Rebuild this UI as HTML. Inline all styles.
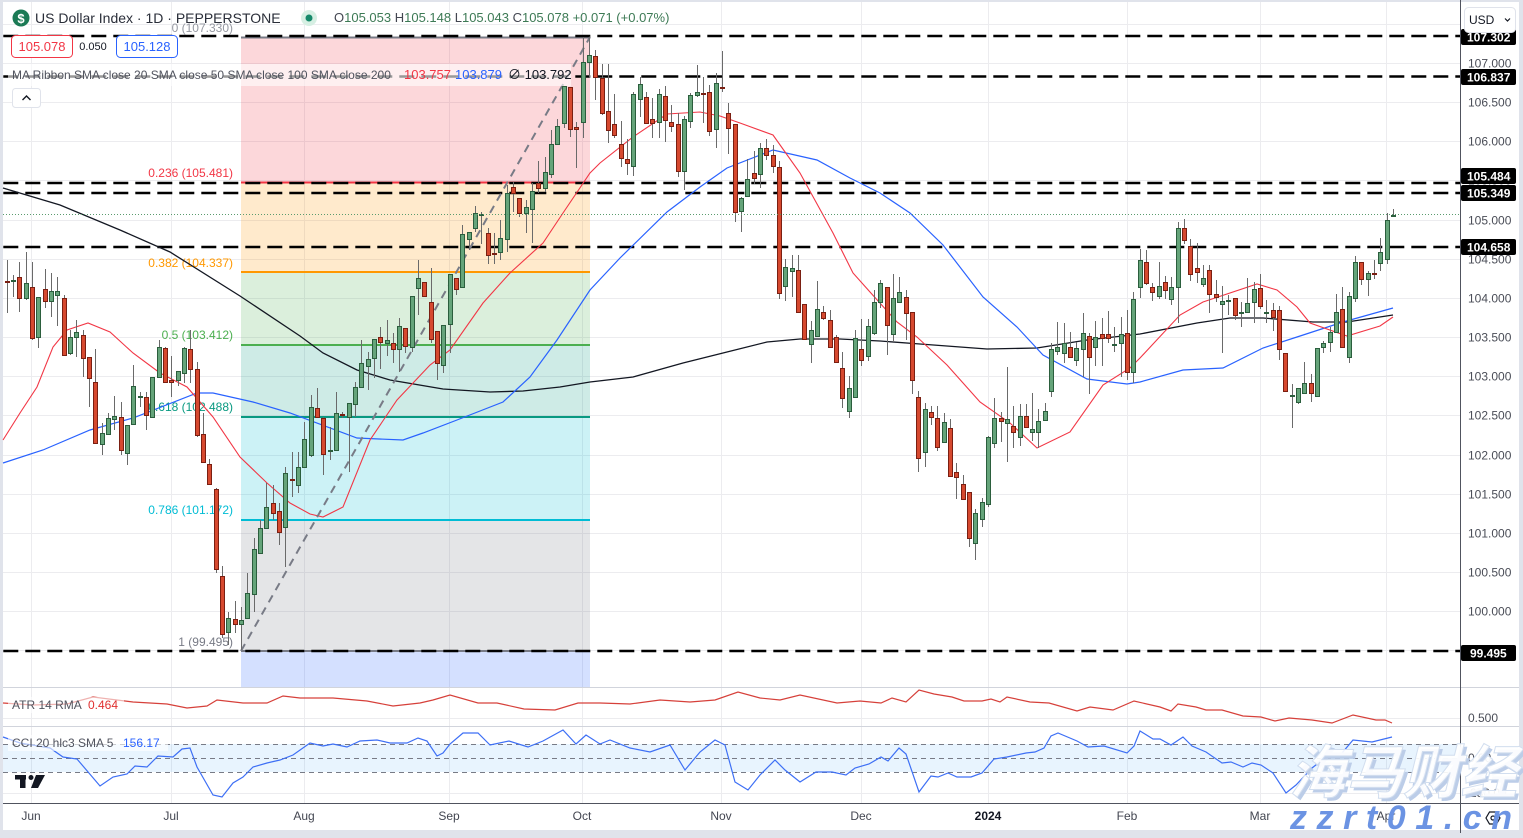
<!DOCTYPE html>
<html><head><meta charset="utf-8">
<style>
html,body{margin:0;padding:0;background:#e0e3eb;}
body{width:1523px;height:833px;overflow:hidden;}
svg text{font-family:"Liberation Sans","Noto Sans CJK SC",sans-serif;}
</style></head><body>
<svg id="c" width="1523" height="833" viewBox="0 0 1523 833" xmlns="http://www.w3.org/2000/svg">
<rect x="0" y="0" width="1523" height="833" fill="#e0e3eb"/>
<rect x="3" y="2" width="1516" height="828" fill="#ffffff"/>

<!-- horizontal grid main -->
<g stroke="#ececef" stroke-width="1">
<line x1="3" x2="1460" y1="24.5" y2="24.5"/><line x1="3" x2="1460" y1="63.5" y2="63.5"/>
<line x1="3" x2="1460" y1="102.5" y2="102.5"/><line x1="3" x2="1460" y1="141.5" y2="141.5"/>
<line x1="3" x2="1460" y1="180.5" y2="180.5"/><line x1="3" x2="1460" y1="220.5" y2="220.5"/>
<line x1="3" x2="1460" y1="259.5" y2="259.5"/><line x1="3" x2="1460" y1="298.5" y2="298.5"/>
<line x1="3" x2="1460" y1="337.5" y2="337.5"/><line x1="3" x2="1460" y1="376.5" y2="376.5"/>
<line x1="3" x2="1460" y1="415.5" y2="415.5"/><line x1="3" x2="1460" y1="455.5" y2="455.5"/>
<line x1="3" x2="1460" y1="494.5" y2="494.5"/><line x1="3" x2="1460" y1="533.5" y2="533.5"/>
<line x1="3" x2="1460" y1="572.5" y2="572.5"/><line x1="3" x2="1460" y1="611.5" y2="611.5"/>
<line x1="3" x2="1460" y1="650.5" y2="650.5"/>
<line x1="3" x2="1460" y1="718.5" y2="718.5"/><line x1="3" x2="1460" y1="793.5" y2="793.5"/>
</g>
<!-- vertical grid -->
<g stroke="#ececef" stroke-width="1">
<line x1="31.5" x2="31.5" y1="2" y2="803"/><line x1="171.5" x2="171.5" y1="2" y2="803"/>
<line x1="304.5" x2="304.5" y1="2" y2="803"/><line x1="449.5" x2="449.5" y1="2" y2="803"/>
<line x1="582.5" x2="582.5" y1="2" y2="803"/><line x1="721.5" x2="721.5" y1="2" y2="803"/>
<line x1="861.5" x2="861.5" y1="2" y2="803"/><line x1="988.5" x2="988.5" y1="2" y2="803"/>
<line x1="1127.5" x2="1127.5" y1="2" y2="803"/><line x1="1260.5" x2="1260.5" y1="2" y2="803"/>
<line x1="1386.5" x2="1386.5" y1="2" y2="803"/>
</g>

<!-- fib fills -->
<rect x="241" y="37.5" width="349" height="145" fill="rgba(242,54,69,0.2)"/>
<rect x="241" y="182.5" width="349" height="89.5" fill="rgba(255,152,0,0.2)"/>
<rect x="241" y="272" width="349" height="73" fill="rgba(76,175,80,0.2)"/>
<rect x="241" y="345" width="349" height="72" fill="rgba(8,153,129,0.2)"/>
<rect x="241" y="417" width="349" height="103" fill="rgba(0,188,212,0.2)"/>
<rect x="241" y="520" width="349" height="131" fill="rgba(120,123,134,0.2)"/>
<rect x="241" y="651" width="349" height="36" fill="rgba(41,98,255,0.2)"/>
<!-- fib lines -->
<g stroke-width="2">
<line x1="241" x2="590" y1="37.5" y2="37.5" stroke="#787b86"/>
<line x1="241" x2="590" y1="182.5" y2="182.5" stroke="#f23645"/>
<line x1="241" x2="590" y1="272" y2="272" stroke="#ff9800"/>
<line x1="241" x2="590" y1="345" y2="345" stroke="#4caf50"/>
<line x1="241" x2="590" y1="417" y2="417" stroke="#089981"/>
<line x1="241" x2="590" y1="520" y2="520" stroke="#00bcd4"/>
<line x1="241" x2="590" y1="651" y2="651" stroke="#787b86"/>
</g>
<g font-size="12" text-anchor="end">
<text x="233" y="32" fill="#9598a1">0 (107.330)</text>
<text x="233" y="177" fill="#f23645">0.236 (105.481)</text>
<text x="233" y="267" fill="#ff9800">0.382 (104.337)</text>
<text x="233" y="339" fill="#4caf50">0.5 (103.412)</text>
<text x="233" y="411" fill="#089981">0.618 (102.488)</text>
<text x="233" y="514" fill="#00bcd4">0.786 (101.172)</text>
<text x="233" y="646" fill="#787b86">1 (99.495)</text>
</g>

<!-- black dashed horizontal levels -->
<g stroke="#000" stroke-width="2.5" stroke-dasharray="15 7">
<line x1="3.3" x2="1460" y1="36" y2="36"/>
<line x1="3.3" x2="1460" y1="76.5" y2="76.5"/>
<line x1="3.3" x2="1460" y1="183" y2="183"/>
<line x1="3.3" x2="1460" y1="193" y2="193"/>
<line x1="3.3" x2="1460" y1="247" y2="247"/>
<line x1="3.3" x2="1460" y1="651" y2="651"/>
</g>

<!-- moving averages -->
<g fill="none">
<polyline stroke="#131722" stroke-width="1.3" points="3,188 60,205 120,230 170,252 240,296 300,336 323,353 357,370 390,380 443,389 490,392 523,391 560,387 590,382 633,377 683,363 727,352 767,342 800,339 840,339 880,341 920,344 987,349 1037,348 1087,340 1140,334 1197,323 1230,318 1263,318 1313,322 1347,322 1393,315"/>
<polyline stroke="#2962ff" stroke-width="1.2" points="3,463 43,450 90,430 133,418 197,393 213,393 253,402 290,413 357,438 403,440 423,433 457,420 503,402 530,377 557,340 590,290 620,258 667,212 700,187 727,168 773,150 817,160 850,178 880,193 910,213 943,245 983,297 1017,327 1043,355 1087,379 1127,384 1140,382 1183,370 1223,368 1263,348 1297,337 1343,322 1393,308"/>
<polyline stroke="#f23645" stroke-width="1.1" points="3,440 20,413 37,387 53,347 67,330 88,323 110,332 133,353 160,373 187,387 213,417 240,457 267,483 290,503 310,514 323,517 343,507 370,440 397,400 430,365 450,350 483,303 510,273 543,243 563,213 590,173 600,163 633,137 667,114 700,112 720,116 740,123 773,135 800,173 833,233 853,273 870,292 897,322 917,337 947,365 980,402 1010,423 1037,448 1070,432 1103,385 1130,368 1140,358 1180,315 1203,302 1257,284 1277,290 1297,307 1310,323 1347,336 1380,326 1393,317"/>
</g>
<!-- fib trend line -->
<line x1="241" y1="651" x2="590" y2="37" stroke="#787b86" stroke-width="2" stroke-dasharray="8 6"/>

<!-- candles -->
<g id="cd"></g>

<!-- current price dotted -->
<line x1="3" x2="1460" y1="214.5" y2="214.5" stroke="#5a9b6e" stroke-width="1" stroke-dasharray="1 2"/>

<!-- header -->
<circle cx="21" cy="18" r="8.5" fill="#1b7a55"/>
<text x="21" y="23" font-size="13" font-weight="bold" fill="#fff" text-anchor="middle">$</text>
<text x="35" y="23" font-size="14" fill="#2a2e39">US Dollar Index · 1D · PEPPERSTONE</text>
<circle cx="309" cy="18" r="8" fill="#d6efe3"/>
<circle cx="309" cy="18" r="3.5" fill="#15896a"/>
<text x="334" y="22" font-size="13" fill="#3d7a55"><tspan fill="#434651">O</tspan>105.053 <tspan fill="#434651">H</tspan>105.148 <tspan fill="#434651">L</tspan>105.043 <tspan fill="#434651">C</tspan>105.078 +0.071 (+0.07%)</text>

<rect x="11.5" y="35.5" width="61" height="22" rx="4" fill="#fff" stroke="#f23645"/>
<text x="42" y="51" font-size="13" fill="#f23645" text-anchor="middle">105.078</text>
<text x="93" y="50" font-size="11" fill="#131722" text-anchor="middle">0.050</text>
<rect x="116.5" y="35.5" width="61" height="22" rx="4" fill="#fff" stroke="#2962ff"/>
<text x="147" y="51" font-size="13" fill="#2962ff" text-anchor="middle">105.128</text>

<rect x="8" y="64" width="563" height="22" fill="#fff" fill-opacity="0.6"/>
<text x="12" y="79" font-size="12" fill="#50535e">MA Ribbon SMA close 20 SMA close 50 SMA close 100 SMA close 200</text>
<text x="404" y="79" font-size="13" fill="#f23645">103.757</text>
<text x="455" y="79" font-size="13" fill="#2962ff">103.879</text>
<text x="508" y="79" font-size="13" fill="#131722">∅ 103.792</text>

<rect x="12.5" y="88.5" width="28" height="19" rx="3" fill="#fff" stroke="#e0e3eb"/>
<polyline points="22.5,100 26.5,96 30.5,100" fill="none" stroke="#131722" stroke-width="1.4"/>

<!-- lower panes -->
<line x1="3" x2="1519" y1="687.5" y2="687.5" stroke="#d1d4dc"/>
<line x1="3" x2="1519" y1="726.5" y2="726.5" stroke="#d1d4dc"/>
<rect x="3" y="744" width="1457" height="28" fill="rgba(33,150,243,0.1)"/>
<g stroke="#787b86" stroke-width="1" stroke-dasharray="5 4">
<line x1="3" x2="1460" y1="744.5" y2="744.5"/>
<line x1="3" x2="1460" y1="758.5" y2="758.5"/>
<line x1="3" x2="1460" y1="772.5" y2="772.5"/>
</g>
<polyline fill="none" stroke="#d6403a" stroke-width="1.2" points="3,703 33,705 67,704 93,697 133,702 167,704 187,708 207,706 217,700 243,703 267,703 283,696 300,698 333,698 367,701 393,706 420,703 433,700 450,695 478,703 497,703 524,709 555,710 578,703 600,703 630,704 660,700 690,702 715,700 738,692 760,698 780,700 800,695 837,703 860,701 881,703 892,698 906,702 919,690 934,694 952,697 964,701 982,701 991,699 1000,702 1007,697 1030,702 1049,703 1077,711 1090,707 1113,710 1134,701 1160,707 1171,711 1178,704 1196,707 1206,710 1222,710 1243,716 1261,717 1275,721 1289,718 1312,720 1332,723 1353,715 1376,720 1385,720 1392,723"/>
<polyline fill="none" stroke="#3d6ff5" stroke-width="1.2" points="3,737 20,743 50,748 63,757 77,759 100,786 113,777 127,774 135,766 147,767 158,756 173,757 182,749 190,748 197,767 213,795 222,797 233,783 243,777 253,767 267,763 280,760 293,755 310,743 323,746 333,744 347,747 360,741 377,740 390,743 407,743 418,738 427,741 437,756 443,753 450,744 463,733 478,733 490,745 509,741 528,747 543,741 563,730 576,744 586,735 600,744 610,740 630,748 650,752 670,745 685,770 700,752 715,740 725,745 735,782 748,790 760,775 775,760 785,770 800,782 816,772 832,772 846,775 855,768 869,764 881,757 888,761 899,748 906,754 919,792 931,776 938,777 948,773 957,777 971,777 982,773 994,759 1007,757 1026,753 1035,752 1044,748 1051,736 1058,733 1077,741 1088,747 1104,746 1127,753 1134,746 1140,731 1153,739 1160,739 1171,745 1183,737 1192,746 1206,752 1222,763 1231,762 1243,767 1252,763 1261,765 1273,773 1286,793 1296,785 1312,768 1330,754 1342,753 1353,740 1372,742 1392,737"/>
<rect x="8" y="697" width="116" height="16" fill="#fff" fill-opacity="0.6"/>
<text x="12" y="709" font-size="12" fill="#50535e">ATR 14 RMA</text>
<text x="88" y="709" font-size="12" fill="#e0302f">0.464</text>
<rect x="8" y="735" width="160" height="16" fill="#fff" fill-opacity="0.6"/>
<text x="12" y="747" font-size="12" fill="#50535e">CCI 20 hlc3 SMA 5</text>
<text x="123" y="747" font-size="12" fill="#2962ff">156.17</text>
<!-- TV logo -->
<g fill="#131722">
<rect x="15" y="775" width="11" height="4.5"/>
<rect x="20" y="775" width="5.5" height="13"/>
<circle cx="31" cy="777.5" r="2.5"/>
<polygon points="36,775 45,775 38,788 31,788"/>
</g>

<!-- time axis -->
<line x1="3" x2="1519" y1="803.5" y2="803.5" stroke="#50535e"/>
<g font-size="12" fill="#434651" text-anchor="middle">
<text x="31" y="820">Jun</text><text x="171" y="820">Jul</text><text x="304" y="820">Aug</text>
<text x="449" y="820">Sep</text><text x="582" y="820">Oct</text><text x="721" y="820">Nov</text>
<text x="861" y="820">Dec</text><text x="988" y="820" font-weight="bold" fill="#131722">2024</text>
<text x="1127" y="820">Feb</text><text x="1260" y="820">Mar</text><text x="1386" y="820">Apr</text>
</g>

<!-- right price axis -->
<rect x="1461" y="2" width="58" height="801" fill="#fff"/>
<line x1="1460.5" x2="1460.5" y1="0" y2="833" stroke="#50535e"/>
<line x1="1461" x2="1519" y1="687.5" y2="687.5" stroke="#d1d4dc"/>
<line x1="1461" x2="1519" y1="726.5" y2="726.5" stroke="#d1d4dc"/>
<g font-size="12" fill="#4a4d57">
<text x="1468" y="28">107.500</text>
<text x="1468" y="67.5">107.000</text><text x="1468" y="106.5">106.500</text>
<text x="1468" y="145.5">106.000</text><text x="1468" y="184.5">105.500</text>
<text x="1468" y="224.5">105.000</text><text x="1468" y="263.5">104.500</text>
<text x="1468" y="302.5">104.000</text><text x="1468" y="341.5">103.500</text>
<text x="1468" y="380.5">103.000</text><text x="1468" y="419.5">102.500</text>
<text x="1468" y="459.5">102.000</text><text x="1468" y="498.5">101.500</text>
<text x="1468" y="537.5">101.000</text><text x="1468" y="576.5">100.500</text>
<text x="1468" y="615.5">100.000</text><text x="1468" y="654.5">99.500</text>
<text x="1468" y="722">0.500</text>
<text x="1468" y="762">0.00</text>
<text x="1466" y="797">-250.00</text>
</g>
<g>
<rect x="1461" y="29" width="55" height="16" rx="2" fill="#000"/>
<rect x="1461" y="69" width="55" height="16" rx="2" fill="#000"/>
<rect x="1461" y="168" width="55" height="16" rx="2" fill="#000"/>
<rect x="1461" y="185" width="55" height="16" rx="2" fill="#000"/>
<rect x="1461" y="239" width="55" height="16" rx="2" fill="#000"/>
<rect x="1461" y="645" width="55" height="16" rx="2" fill="#000"/>
</g>
<g font-size="12" font-weight="bold" fill="#fff">
<text x="1467" y="41.5">107.302</text>
<text x="1467" y="81.5">106.837</text>
<text x="1467" y="180.5">105.484</text>
<text x="1467" y="197.5">105.349</text>
<text x="1467" y="251.5">104.658</text>
<text x="1470" y="657.5">99.495</text>
</g>
<rect x="1464.5" y="7.5" width="51" height="25" rx="4" fill="#fff" stroke="#e0e3eb"/>
<text x="1469" y="24" font-size="12" fill="#131722">USD</text>
<polyline points="1505,18.5 1507.5,21 1510,18.5" fill="none" stroke="#131722" stroke-width="1.2"/>
<polygon points="1500,818 1496.5,824 1489.5,824 1486,818 1489.5,812 1496.5,812" fill="none" stroke="#131722" stroke-width="1.2"/>
<circle cx="1493" cy="818" r="2" fill="none" stroke="#131722" stroke-width="1.2"/>

<!-- watermark -->
<g font-size="58" font-weight="bold" font-style="italic">
<text x="1292" y="796" fill="#bccde8" textLength="228" lengthAdjust="spacingAndGlyphs" style="font-family:'Noto Sans CJK SC','WenQuanYi Zen Hei',sans-serif">海马财经</text>
<text x="1289" y="793" fill="#ffffff" fill-opacity="0.92" stroke="#d2deef" stroke-width="1" textLength="228" lengthAdjust="spacingAndGlyphs" style="font-family:'Noto Sans CJK SC','WenQuanYi Zen Hei',sans-serif">海马财经</text>
</g>
<text x="1290" y="829" font-size="34" font-weight="bold" font-style="italic" fill="#6b93e3" textLength="222" lengthAdjust="spacing">zzrt01.cn</text>
</svg>
<script>
const D=[
[281,260,313,282],[281,275,297,280],[277,262,312,298],[298,252,300,283],[287,262,340,338],
[337,297,348,297],[289,269,308,301],[301,273,317,291],[295,277,326,291],[298,295,356,355],
[353,330,355,337],[337,320,357,332],[335,330,377,358],[357,357,407,378],[382,349,443,443],
[444,423,455,433],[434,413,435,418],[419,396,430,416],[417,402,455,450],[453,425,465,425],
[424,365,425,386],[397,392,407,396],[397,392,430,415],[417,377,417,377],[377,340,378,347],
[348,347,383,382],[380,356,397,382],[380,371,386,371],[373,347,383,348],[349,330,383,369],
[369,362,437,435],[434,413,463,462],[464,459,484,484],[489,488,573,569],[576,566,638,634],
[632,612,645,618],[619,601,633,624],[624,607,650,620],[618,573,618,593],[594,538,612,549],
[553,520,553,528],[528,483,528,507],[503,485,520,513],[511,503,545,532],[527,467,567,473],
[479,452,497,480],[485,452,493,467],[467,422,467,439],[455,395,457,407],[408,388,417,417],
[418,417,475,454],[451,427,460,450],[450,392,451,413],[414,412,418,415],[417,403,472,403],
[404,382,417,387],[387,340,387,363],[366,352,390,359],[358,339,378,339],[337,327,369,342],
[343,320,356,340],[343,333,363,349],[349,318,372,326],[328,328,353,346],[347,296,352,296],
[288,260,315,278],[282,282,297,296],[302,268,343,339],[331,331,380,363],[365,325,373,325],
[324,274,353,274],[278,278,295,289],[287,225,288,234],[239,232,250,232],[228,206,232,213],
[215,212,244,214],[233,228,264,255],[253,233,264,254],[252,220,260,238],[239,185,252,193],
[187,182,212,193],[198,198,217,213],[213,200,233,207],[209,183,243,191],[183,161,193,188],
[188,157,192,172],[174,130,178,144],[144,119,144,126],[123,86,128,86],[87,87,137,129],
[127,122,168,129],[122,37,138,62],[62,37,78,55],[56,50,100,77],[78,64,115,113],
[111,64,143,130],[124,94,138,135],[144,121,167,158],[159,139,175,163],[166,92,176,94],
[99,77,117,84],[97,92,123,123],[119,98,138,123],[122,89,138,94],[96,86,142,120],
[122,105,132,126],[124,113,177,171],[171,116,190,119],[121,93,128,95],[95,65,97,92],
[93,77,123,94],[92,85,136,131],[129,73,148,83],[87,51,92,88],[113,103,154,128],
[124,124,222,212],[211,197,232,198],[196,159,197,179],[173,151,184,178],[174,143,188,148],
[148,139,160,155],[155,145,173,166],[167,161,299,293],[286,259,301,267],[271,255,297,268],
[270,255,312,312],[304,304,339,339],[344,321,363,330],[336,281,336,309],[312,306,320,318],
[320,310,348,347],[337,335,363,362],[368,352,408,398],[411,376,418,388],[397,330,397,338],
[349,319,366,360],[356,319,361,326],[333,290,335,302],[302,280,308,283],[287,287,355,325],
[334,274,342,298],[302,277,302,292],[297,290,340,313],[312,312,394,380],[397,391,472,458],
[452,403,467,409],[412,406,425,417],[418,406,451,447],[442,413,443,422],[428,419,476,476],
[472,463,499,477],[484,475,499,499],[492,492,547,538],[543,509,560,513],[519,498,527,502],
[504,436,507,437],[443,398,448,418],[418,412,442,421],[423,367,462,419],[426,406,448,432],
[437,404,446,416],[416,404,427,427],[432,393,441,429],[432,409,448,421],[420,403,420,411],
[391,343,397,349],[351,322,355,347],[353,323,363,343],[347,332,357,357],[360,342,366,348],
[349,313,377,333],[336,333,394,357],[347,321,366,337],[334,318,366,338],[334,311,343,338],
[345,327,352,344],[343,317,377,334],[333,310,380,372],[372,292,383,299],[287,249,298,260],
[262,250,285,283],[287,283,301,292],[296,262,299,286],[282,276,299,290],[299,277,305,287],
[287,222,323,228],[228,219,244,240],[246,239,281,274],[268,243,283,272],[284,265,287,278],
[270,265,313,294],[294,280,302,297],[304,286,353,301],[301,295,315,300],[298,298,320,315],
[313,302,327,312],[312,278,313,303],[302,282,323,289],[288,274,309,306],[313,300,323,312],
[310,303,331,317],[310,306,360,349],[353,353,391,391],[396,384,428,395],[402,388,404,388],
[393,362,393,383],[383,374,402,393],[396,348,397,348],[347,341,353,343],[342,327,352,332],
[332,294,332,312],[309,287,347,347],[357,292,363,296],[298,256,302,262],[262,262,285,279],
[279,271,296,273],[273,260,279,274],[263,238,271,252],[259,213,264,220],[216,209,216,215]
];
let s='';
D.forEach(function(d,i){
  var cx=Math.round(6.7+i*6.33);
  var o=d[0],h=d[1],l=d[2],c=d[3];
  var up=c<o;
  var top=Math.min(o,c),bot=Math.max(o,c);
  s+='<line x1="'+(cx+0.5)+'" y1="'+h+'" x2="'+(cx+0.5)+'" y2="'+l+'" stroke="#6a6a6a" stroke-width="1"/>';
  var hh=bot-top; if(hh<1){hh=1;}
  s+='<rect x="'+(cx-1.5)+'" y="'+(top+0.5)+'" width="4" height="'+hh+'" fill="'+(up?'#65a47a':'#d6492f')+'" stroke="'+(up?'#2b5e3d':'#7a1f12')+'" stroke-width="1"/>';
});
document.getElementById('cd').innerHTML=s;
</script>
</body></html>
